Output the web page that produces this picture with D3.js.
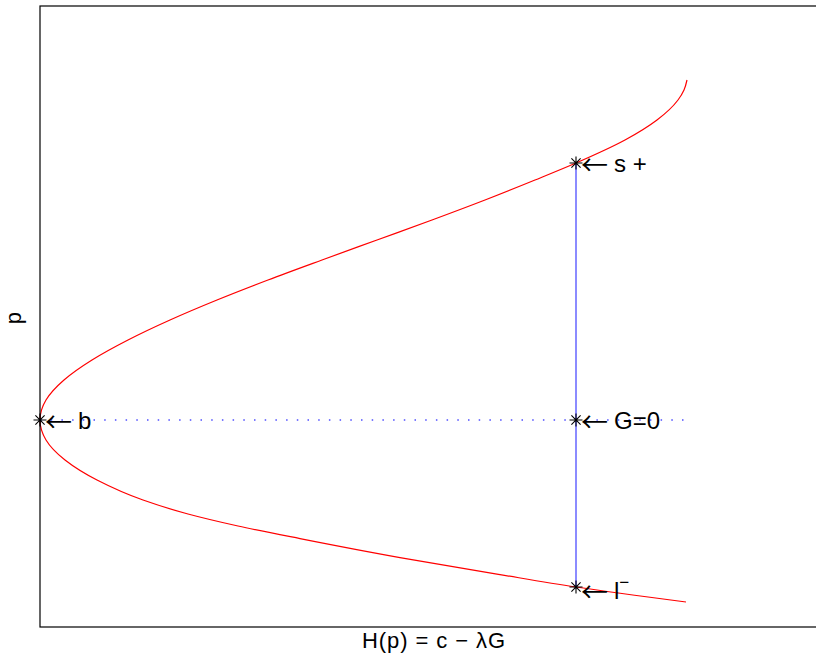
<!DOCTYPE html>
<html>
<head>
<meta charset="utf-8">
<script src="https://cdn.jsdelivr.net/npm/d3@7"></script>
<style>
  body { margin: 0; background: #fff; }
  svg { display: block; }
  text { font-family: "Liberation Sans", Arial, sans-serif; fill: #000; }
</style>
</head>
<body>
<div id="chart"></div>
<script>
// curve H(p) (arbitrary units), top to bottom
const curveP = [3.40, 3.30, 3.20, 3.00, 2.80, 2.57, 2.40, 2.20, 2.00, 1.80, 1.60, 1.40, 1.20, 1.00,
                0.80, 0.60, 0.40, 0.20, 0.00, -0.20, -0.40, -0.60, -0.80, -0.94, -1.06,
                -1.186, -1.376, -1.546, -1.67, -1.82];
const curveH = [6.47, 6.44, 6.38, 6.17, 5.85, 5.36, 4.95, 4.45, 3.92, 3.37, 2.82, 2.28, 1.77, 1.30,
                0.88, 0.52, 0.24, 0.06, 0.00, 0.06, 0.25, 0.57, 1.03, 1.48, 1.98,
                2.60, 3.60, 4.60, 5.36, 6.46];

// marked points
const markNames = ["b", "s +", "G=0", "l"];
const markH = [0.00, 5.36, 5.36, 5.36];
const markP = [0.00, 2.57, 0.00, -1.67];

// G=0 dotted line and the vertical segment
const zeroLineH = [0.00, 6.46];
const segP = [-1.67, 2.57];

const xLabel = "H(p) = c \u2212 \u03bbG";
const yLabel = "p";

const W = 816, H = 666;
const margin = {top: 6, left: 40, bottom: 39, right: -24};

const svg = d3.select("#chart").append("svg")
  .attr("width", W)
  .attr("height", H);

const x = d3.scaleLinear()
  .domain([0, 8])
  .range([margin.left, W - margin.right]);
const y = d3.scaleLinear()
  .domain([-2.07, 4.14])
  .range([H - margin.bottom, margin.top]);

const pts = curveP.map((p, i) => ({p: p, h: curveH[i]}));

// dotted G=0 line
svg.append("line")
  .attr("x1", x(zeroLineH[0])).attr("x2", x(zeroLineH[1]))
  .attr("y1", y(0)).attr("y2", y(0))
  .attr("stroke", "#4d4dff")
  .attr("stroke-width", 1.3)
  .attr("stroke-dasharray", "1.5,9.2");

// vertical segment
svg.append("line")
  .attr("x1", x(markH[1])).attr("x2", x(markH[1]))
  .attr("y1", y(segP[0])).attr("y2", y(segP[1]))
  .attr("stroke", "#4d4dff")
  .attr("stroke-width", 1.3);

// red curve (H as a function of p)
const line = d3.line()
  .x(d => x(d.h))
  .y(d => y(d.p))
  .curve(d3.curveMonotoneY);
svg.append("path")
  .datum(pts)
  .attr("d", line)
  .attr("fill", "none")
  .attr("stroke", "#ff0000")
  .attr("stroke-width", 1.2);

// asterisk markers
const star = "M-6.5,0H6.5M0,-6.5V6.5M-4.6,-4.6L4.6,4.6M-4.6,4.6L4.6,-4.6";
markNames.forEach((name, i) => {
  const cx = x(markH[i]), cy = y(markP[i]);
  svg.append("path")
    .attr("d", star)
    .attr("transform", `translate(${cx},${cy})`)
    .attr("stroke", "#000")
    .attr("stroke-width", 1.1)
    .attr("fill", "none");

  const isL = name === "l";
  const base = cy + (isL ? 12 : 9);
  const t = svg.append("text")
    .attr("y", base)
    .attr("font-size", 24);
  t.append("tspan")
    .attr("x", cx + 5)
    .attr("dy", 3)
    .style("font-family", "'Noto Sans CJK SC'")
    .attr("font-size", 27)
    .text("\u2190");
  t.append("tspan")
    .attr("x", cx + 38)
    .attr("dy", -3)
    .text(name);
  if (isL) {
    t.append("tspan")
      .attr("font-size", 17)
      .attr("dy", -11)
      .text("\u2212");
  }
});

// axes box (right edge lies outside the picture)
svg.append("rect")
  .attr("x", x(0)).attr("y", margin.top)
  .attr("width", W + 10 - x(0))
  .attr("height", y(-2.07) - margin.top)
  .attr("fill", "none")
  .attr("stroke", "#000")
  .attr("stroke-width", 1.2);

// labels
svg.append("text")
  .attr("x", 362)
  .attr("y", 648)
  .attr("font-size", 22)
  .attr("textLength", 143)
  .attr("lengthAdjust", "spacing")
  .text(xLabel);

svg.append("text")
  .attr("transform", "translate(21,318) rotate(-90)")
  .attr("text-anchor", "middle")
  .attr("font-size", 22)
  .text(yLabel);
</script>
</body>
</html>
